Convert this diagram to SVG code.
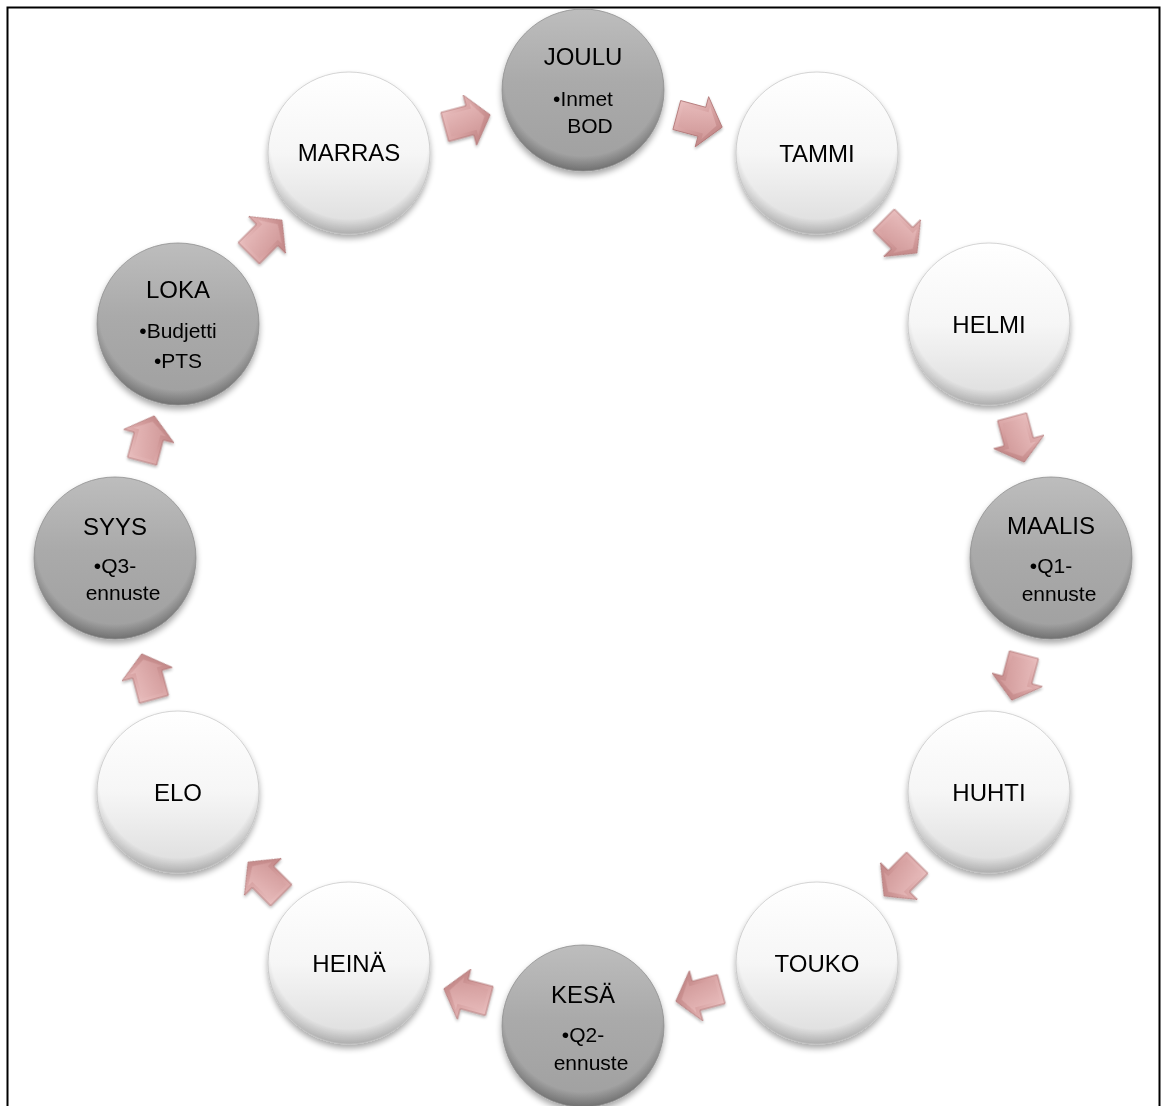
<svg xmlns="http://www.w3.org/2000/svg" width="1164" height="1106" viewBox="0 0 1164 1106">
<style>
.t{font-family:"Liberation Sans",Arial,sans-serif;fill:#000;text-anchor:middle}
.h{font-size:24px}
.b{font-size:21px}
</style>
<defs>
<linearGradient id="gG" x1="0" y1="0" x2="0" y2="1">
<stop offset="0" stop-color="#bdbdbd"/><stop offset="0.45" stop-color="#aaaaaa"/><stop offset="1" stop-color="#a0a0a0"/>
</linearGradient>
<linearGradient id="wG" x1="0" y1="0" x2="0" y2="1">
<stop offset="0" stop-color="#ffffff"/><stop offset="0.5" stop-color="#f6f6f6"/><stop offset="1" stop-color="#dcdcdc"/>
</linearGradient>
<radialGradient id="edge" cx="0.5" cy="0.42" r="0.58">
<stop offset="0.84" stop-color="#000" stop-opacity="0"/><stop offset="1" stop-color="#000" stop-opacity="0.3"/>
</radialGradient>
<linearGradient id="aG" x1="0" y1="0" x2="1" y2="1">
<stop offset="0" stop-color="#efc8c8"/><stop offset="0.5" stop-color="#d6a0a0"/><stop offset="1" stop-color="#b57777"/>
</linearGradient>
<linearGradient id="aI" x1="0" y1="0" x2="0" y2="1">
<stop offset="0" stop-color="#e8bcbc"/><stop offset="1" stop-color="#d39c9c"/>
</linearGradient>
<filter id="sh" x="-20%" y="-20%" width="140%" height="150%">
<feGaussianBlur in="SourceAlpha" stdDeviation="3"/>
<feOffset dy="4" result="o"/>
<feComponentTransfer><feFuncA type="linear" slope="0.35"/></feComponentTransfer>
<feMerge><feMergeNode/><feMergeNode in="SourceGraphic"/></feMerge>
</filter>
<filter id="ash" x="-30%" y="-30%" width="160%" height="160%">
<feGaussianBlur in="SourceAlpha" stdDeviation="1.5"/>
<feOffset dy="2" result="o"/>
<feComponentTransfer><feFuncA type="linear" slope="0.3"/></feComponentTransfer>
<feMerge><feMergeNode/><feMergeNode in="SourceGraphic"/></feMerge>
</filter>
<g id="arr">
<polygon points="-23,-15 3,-15 3,-26 24,0 3,26 3,15 -23,15" fill="url(#aG)" stroke="#b07575" stroke-width="0.8"/>
<polygon points="-19,-11 7,-11 7,-17 18,0 7,17 7,11 -19,11" fill="url(#aI)" opacity="0.75"/>
</g>
<g id="gc">
<circle r="81" fill="url(#gG)"/>
<circle r="81" fill="url(#edge)" stroke="#8e8e8e" stroke-width="0.8"/>
</g>
<g id="wc">
<circle r="81" fill="url(#wG)"/>
<circle r="81" fill="url(#edge)" opacity="0.7" stroke="#b4b4b4" stroke-width="0.8"/>
</g>
</defs>
<rect width="1164" height="1106" fill="#fff"/>
<rect x="7.5" y="7.5" width="1152" height="1120" fill="none" stroke="#000" stroke-width="2"/>

<g id="connectors" filter="url(#ash)">
<use href="#arr" transform="translate(699,121) rotate(15)"/>
<use href="#arr" transform="translate(900,236) rotate(45)"/>
<use href="#arr" transform="translate(1018,439) rotate(75)"/>
<use href="#arr" transform="translate(1018,677) rotate(105)"/>
<use href="#arr" transform="translate(901,879) rotate(135)"/>
<use href="#arr" transform="translate(699,995) rotate(165)"/>
<use href="#arr" transform="translate(467,995) rotate(195)"/>
<use href="#arr" transform="translate(265,879) rotate(225)"/>
<use href="#arr" transform="translate(148,677) rotate(255)"/>
<use href="#arr" transform="translate(148,439) rotate(285)"/>
<use href="#arr" transform="translate(265,237) rotate(315)"/>
<use href="#arr" transform="translate(467,121) rotate(345)"/>
</g>

<g id="joulu" transform="translate(583,90)">
<use href="#gc" filter="url(#sh)"/>
<text class="t h" y="-25">JOULU</text>
<text class="t b" y="16">•Inmet</text>
<text class="t b" x="7" y="43">BOD</text>
</g>
<g id="tammi" transform="translate(817,153)">
<use href="#wc" filter="url(#sh)"/>
<text class="t h" y="9">TAMMI</text>
</g>
<g id="helmi" transform="translate(989,324)">
<use href="#wc" filter="url(#sh)"/>
<text class="t h" y="9">HELMI</text>
</g>
<g id="maalis" transform="translate(1051,558)">
<use href="#gc" filter="url(#sh)"/>
<text class="t h" y="-24">MAALIS</text>
<text class="t b" y="15">•Q1-</text>
<text class="t b" x="8" y="43">ennuste</text>
</g>
<g id="huhti" transform="translate(989,792)">
<use href="#wc" filter="url(#sh)"/>
<text class="t h" y="9">HUHTI</text>
</g>
<g id="touko" transform="translate(817,963)">
<use href="#wc" filter="url(#sh)"/>
<text class="t h" y="9">TOUKO</text>
</g>
<g id="kesa" transform="translate(583,1026)">
<use href="#gc" filter="url(#sh)"/>
<text class="t h" y="-23">KESÄ</text>
<text class="t b" y="16">•Q2-</text>
<text class="t b" x="8" y="44">ennuste</text>
</g>
<g id="heina" transform="translate(349,963)">
<use href="#wc" filter="url(#sh)"/>
<text class="t h" y="9">HEINÄ</text>
</g>
<g id="elo" transform="translate(178,792)">
<use href="#wc" filter="url(#sh)"/>
<text class="t h" y="9">ELO</text>
</g>
<g id="syys" transform="translate(115,558)">
<use href="#gc" filter="url(#sh)"/>
<text class="t h" y="-23">SYYS</text>
<text class="t b" y="15">•Q3-</text>
<text class="t b" x="8" y="42">ennuste</text>
</g>
<g id="loka" transform="translate(178,324)">
<use href="#gc" filter="url(#sh)"/>
<text class="t h" y="-26">LOKA</text>
<text class="t b" y="14">•Budjetti</text>
<text class="t b" y="44">•PTS</text>
</g>
<g id="marras" transform="translate(349,153)">
<use href="#wc" filter="url(#sh)"/>
<text class="t h" y="8">MARRAS</text>
</g>
</svg>
